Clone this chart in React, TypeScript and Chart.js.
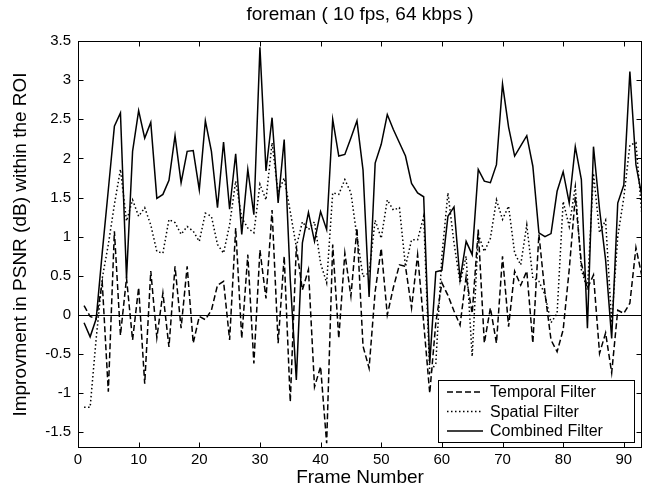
import React, { useEffect, useRef } from "react";
import { Chart, registerables } from "chart.js";

Chart.register(...registerables);

const TITLE = "foreman ( 10 fps, 64 kbps )";
const X_TITLE = "Frame Number";
const Y_TITLE = "Improvment in PSNR (dB) within the ROI";
const SERIES_NAMES = ["Temporal Filter", "Spatial Filter", "Combined Filter"];

const X_TICKS = [0, 10, 20, 30, 40, 50, 60, 70, 80, 90];
const Y_TICKS = [-1.5, -1, -0.5, 0, 0.5, 1, 1.5, 2, 2.5, 3, 3.5];

const FRAMES = Array.from({ length: 93 }, (_, i) => i + 1);

const TEMPORAL = [
  0.12, -0.02, -0.05, 0.41, -0.98, 1.07, -0.26, 0.47, -0.32, 0.35,
  -0.88, 0.56, -0.29, 0.28, -0.41, 0.62, -0.17, 0.62, -0.36, -0.02,
  -0.06, 0.06, 0.38, 0.43, -0.32, 1.11, -0.3, 0.77, -0.62, 0.83,
  0.21, 1.34, -0.36, 0.75, -1.11, 0.87, 0.32, 0.58, -0.92, -0.66,
  -1.64, 0.9, -0.3, 0.79, 0.24, 1.11, -0.4, -0.68, 0.3, 0.85,
  0.0, 0.35, 0.64, 0.62, 0.09, 0.77, -0.1, -1.0, -0.1, 0.41,
  0.25, 0.05, -0.13, 0.49, 0.02, 1.09, -0.36, 0.09, -0.36, 0.75,
  -0.15, 0.56, 0.38, 0.56, -0.36, 1.03, 0.28, -0.32, -0.47, -0.19,
  0.58, 1.51, 0.66, 0.34, 0.51, -0.49, -0.23, -0.74, 0.06, 0.02,
  0.15, 0.86, 0.49,
];

const SPATIAL = [
  -1.18, -1.18, -0.3, 0.47, 0.9, 1.41, 1.86, 1.2, 1.47, 1.26,
  1.37, 1.15, 0.81, 0.79, 1.22, 1.18, 1.03, 1.13, 1.07, 0.94,
  1.3, 1.26, 0.9, 0.79, 1.15, 1.71, 1.24, 1.11, 1.05, 1.67,
  1.47, 2.2, 1.56, 1.75, 1.32, 0.87, 1.19, 1.09, 1.19, 0.66,
  0.41, 1.56, 1.54, 1.73, 1.56, 1.0, 0.49, 0.54, 1.21, 0.98,
  1.47, 1.34, 1.37, 0.62, 0.96, 0.96, 1.26, -0.74, -0.62, 0.75,
  1.56, 0.92, 0.41, 0.75, -0.53, 1.03, 0.81, 0.98, 1.47, 1.22,
  1.39, 0.79, 0.64, 1.15, 0.47, 0.43, 0.26, -0.1, 0.02, 1.45,
  1.13, 1.64, 0.58, 0.32, 1.81, 1.05, 1.21, -0.1, 1.0, 1.5,
  2.17, 2.2, 1.26,
];

const COMBINED = [
  -0.1, -0.28, -0.05, 0.8, 1.6, 2.41, 2.58, 0.47, 2.09, 2.61,
  2.26, 2.46, 1.49, 1.54, 1.72, 2.29, 1.69, 2.09, 2.1, 1.6,
  2.48, 2.09, 1.37, 2.21, 1.35, 2.06, 1.03, 1.86, 1.28, 3.42,
  1.84, 2.52, 1.43, 2.24, 0.45, -0.83, 0.92, 1.31, 0.94, 1.32,
  1.09, 2.5, 2.03, 2.05, 2.26, 2.48, 1.85, 0.23, 1.94, 2.18,
  2.56, 2.37, 2.2, 2.03, 1.68, 1.56, 1.51, -0.62, 0.55, 0.57,
  1.26, 1.38, 0.45, 0.94, 0.77, 1.86, 1.71, 1.69, 1.92, 2.95,
  2.4, 2.03, 2.16, 2.29, 1.9, 1.05, 1.0, 1.04, 1.58, 1.83,
  1.43, 2.15, 1.73, -0.17, 2.15, 1.35, 0.7, -0.3, 1.43, 1.66,
  3.11, 1.92, 1.51,
];

const FONT = '"Liberation Sans", Arial, Helvetica, sans-serif';
const DASHES = [[6, 3], [1.5, 2.5], []];

const framePlugin = {
  id: "matlabFrame",
  beforeDatasetsDraw(chart: any) {
    const { ctx, chartArea: a, scales } = chart;
    const y0 = Math.round(scales.y.getPixelForValue(0)) + 0.5;
    ctx.save();
    ctx.strokeStyle = "#000";
    ctx.lineWidth = 1;
    ctx.beginPath();
    ctx.moveTo(a.left, y0);
    ctx.lineTo(a.right, y0);
    ctx.stroke();
    ctx.restore();
  },
  afterDraw(chart: any) {
    const { ctx, chartArea: a, scales } = chart;
    const xs = scales.x;
    const ys = scales.y;
    ctx.save();
    ctx.strokeStyle = "#000";
    ctx.lineWidth = 1;
    ctx.setLineDash([]);
    const L = Math.round(a.left) + 0.5;
    const R = Math.round(a.right) - 0.5;
    const T = Math.round(a.top) + 0.5;
    const B = Math.round(a.bottom) - 0.5;
    ctx.strokeRect(L, T, R - L, B - T);
    const tl = 5;
    ctx.beginPath();
    X_TICKS.forEach((v) => {
      const px = Math.round(xs.getPixelForValue(v)) + 0.5;
      ctx.moveTo(px, B);
      ctx.lineTo(px, B - tl);
      ctx.moveTo(px, T);
      ctx.lineTo(px, T + tl);
    });
    Y_TICKS.forEach((v) => {
      const py = Math.round(ys.getPixelForValue(v)) + 0.5;
      ctx.moveTo(L, py);
      ctx.lineTo(L + tl, py);
      ctx.moveTo(R, py);
      ctx.lineTo(R - tl, py);
    });
    ctx.stroke();

    ctx.fillStyle = "#000";
    ctx.font = `19px ${FONT}`;
    ctx.textAlign = "center";
    ctx.textBaseline = "middle";
    ctx.fillText(TITLE, (a.left + a.right) / 2, 15);
    ctx.fillText(X_TITLE, (a.left + a.right) / 2, 478);
    ctx.save();
    ctx.translate(21, (a.top + a.bottom) / 2);
    ctx.rotate(-Math.PI / 2);
    ctx.fillText(Y_TITLE, 0, 0);
    ctx.restore();

    const lx = 438.5, ly = 380.5, lw = 196, lh = 62;
    ctx.fillStyle = "#fff";
    ctx.fillRect(lx, ly, lw, lh);
    ctx.strokeRect(lx, ly, lw, lh);
    ctx.font = `16px ${FONT}`;
    ctx.textAlign = "left";
    ctx.fillStyle = "#000";
    const rows = [392, 411.5, 431];
    SERIES_NAMES.forEach((name, i) => {
      ctx.save();
      ctx.lineWidth = 1.5;
      ctx.setLineDash(DASHES[i]);
      ctx.beginPath();
      ctx.moveTo(447, rows[i]);
      ctx.lineTo(483, rows[i]);
      ctx.stroke();
      ctx.restore();
      ctx.fillText(name, 490, rows[i] + 1);
    });
    ctx.restore();
  },
};

export default function App() {
  const ref = useRef<HTMLCanvasElement | null>(null);
  useEffect(() => {
    document.body.style.margin = "0";
    const canvas = ref.current;
    if (!canvas) return;
    const mk = (vals: number[]) => FRAMES.map((f, i) => ({ x: f, y: vals[i] }));
    const chart = new Chart(canvas, {
      type: "line",
      data: {
        datasets: [TEMPORAL, SPATIAL, COMBINED].map((vals, i) => ({
          label: SERIES_NAMES[i],
          data: mk(vals),
          borderColor: "#000",
          backgroundColor: "#000",
          borderWidth: 1.5,
          borderDash: DASHES[i],
          pointRadius: 0,
          tension: 0,
          fill: false,
        })),
      },
      options: {
        animation: false,
        responsive: false,
        maintainAspectRatio: false,
        layout: { padding: { top: 41, right: 3, left: 0, bottom: 0 } },
        plugins: { legend: { display: false }, title: { display: false }, tooltip: { enabled: false } },
        scales: {
          x: {
            type: "linear",
            min: 0,
            max: 93,
            grid: { display: false, drawTicks: false },
            border: { display: false },
            afterBuildTicks: (s: any) => {
              s.ticks = X_TICKS.map((v) => ({ value: v }));
            },
            afterFit: (s: any) => {
              s.height = 42;
            },
            ticks: {
              color: "#000",
              font: { family: FONT, size: 15 },
              padding: 3,
              maxRotation: 0,
              autoSkip: false,
              callback: (v: any) => String(v),
            },
          },
          y: {
            type: "linear",
            min: -1.7,
            max: 3.5,
            grid: { display: false, drawTicks: false },
            border: { display: false },
            afterBuildTicks: (s: any) => {
              s.ticks = Y_TICKS.map((v) => ({ value: v }));
            },
            afterFit: (s: any) => {
              s.width = 78;
            },
            ticks: {
              color: "#000",
              font: { family: FONT, size: 15 },
              padding: 7,
              autoSkip: false,
              callback: (v: any) => String(v),
            },
          },
        },
      },
      plugins: [framePlugin],
    });
    return () => chart.destroy();
  }, []);
  return (
    <div style={{ width: 645, height: 490, background: "#fff" }}>
      <canvas ref={ref} width={645} height={490} style={{ display: "block" }} />
    </div>
  );
}
